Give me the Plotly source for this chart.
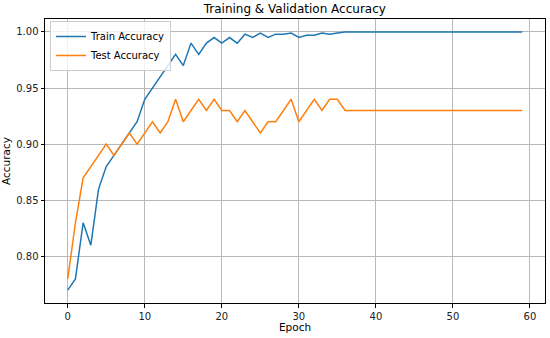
import plotly.graph_objects as go

epochs = list(range(60))
train_acc = [0.77, 0.78, 0.83, 0.81, 0.86, 0.88, 0.89, 0.90, 0.91, 0.92,
             0.94, 0.95, 0.96, 0.97, 0.98, 0.97, 0.99, 0.98, 0.99, 0.995,
             0.99, 0.995, 0.99, 0.998, 0.995, 0.999, 0.995, 0.998, 0.998, 0.999,
             0.995, 0.997, 0.997, 0.999, 0.998, 0.999] + [1.0] * 24
test_acc = [0.78, 0.83, 0.87, 0.88, 0.89, 0.90, 0.89, 0.90, 0.91, 0.90,
            0.91, 0.92, 0.91, 0.92, 0.94, 0.92, 0.93, 0.94, 0.93, 0.94,
            0.93, 0.93, 0.92, 0.93, 0.92, 0.91, 0.92, 0.92, 0.93, 0.94,
            0.92, 0.93, 0.94, 0.93, 0.94, 0.94] + [0.93] * 24

x_ticks = [0, 10, 20, 30, 40, 50, 60]
y_ticks = [0.80, 0.85, 0.90, 0.95, 1.00]

font = "DejaVu Sans"
fig = go.Figure()
fig.add_trace(go.Scatter(x=epochs, y=train_acc, mode="lines", name="Train Accuracy",
                         line=dict(color="#1f77b4", width=1.5)))
fig.add_trace(go.Scatter(x=epochs, y=test_acc, mode="lines", name="Test Accuracy",
                         line=dict(color="#ff7f0e", width=1.5)))

axis_common = dict(showline=True, linecolor="black", linewidth=1, mirror=True,
                   ticks="outside", ticklen=3.5, tickcolor="black", tickwidth=0.8,
                   showgrid=True, gridcolor="#b8b8b8", gridwidth=0.8,
                   zeroline=False, automargin=False,
                   tickfont=dict(family=font, size=10, color="#222222"))

fig.update_layout(
    width=550, height=338,
    margin=dict(l=45, r=5, t=19, b=35, autoexpand=False),
    paper_bgcolor="white", plot_bgcolor="white",
    font=dict(family=font, color="black"),
    title=dict(text="Training & Validation Accuracy", x=0.536, xanchor="center",
               y=1 - 9 / 338, yanchor="middle", automargin=False,
               font=dict(family=font, size=12, color="black")),
    xaxis=dict(range=[-2.95, 61.95], tickvals=x_ticks,
               title=dict(text="Epoch", font=dict(family=font, size=10.5), standoff=2),
               **axis_common),
    yaxis=dict(range=[0.7585, 1.0115], tickvals=y_ticks, tickformat=".2f",
               title=dict(text="Accuracy", font=dict(family=font, size=10.5), standoff=4),
               **axis_common),
    legend=dict(x=0.01, y=0.993, xanchor="left", yanchor="top",
                bgcolor="rgba(255,255,255,0.8)", bordercolor="#cccccc", borderwidth=1,
                font=dict(family=font, size=10, color="black"),
                tracegroupgap=0, itemwidth=30),
    showlegend=True,
)

fig.write_html("out.html", config={"displayModeBar": False},
               post_script="document.body.style.margin='0';document.body.style.overflow='hidden';")
